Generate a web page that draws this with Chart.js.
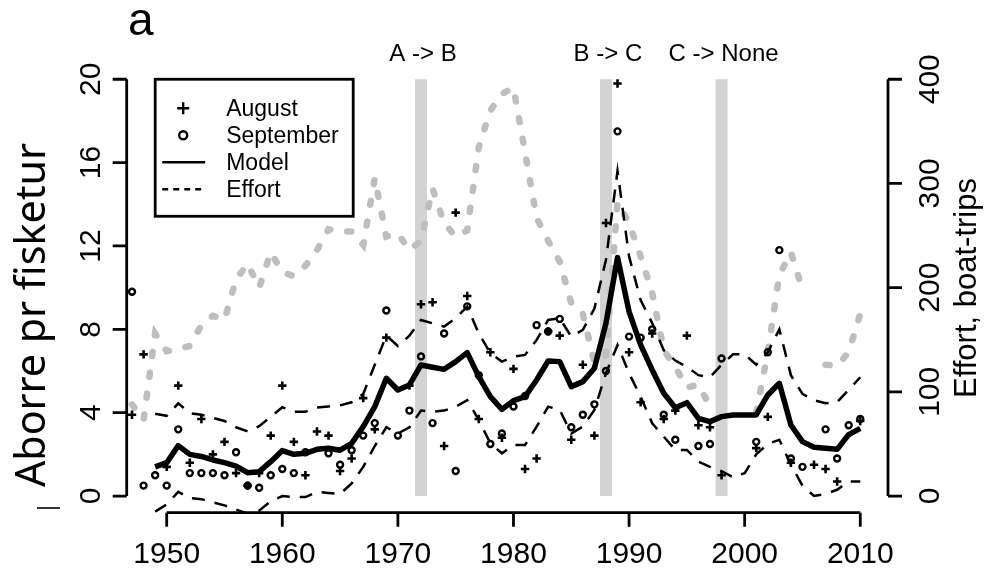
<!DOCTYPE html>
<html>
<head>
<meta charset="utf-8">
<script src="https://cdn.jsdelivr.net/npm/chart.js@4.4.1/dist/chart.umd.min.js"></script>
<style>
  html, body { margin: 0; padding: 0; background: #fff; }
  canvas { display: block; }
</style>
</head>
<body>
<canvas id="chart" width="985" height="568"></canvas>
<script>
// ---- data ----
const years = [1947, 1948, 1949, 1950, 1951, 1952, 1953, 1954, 1955, 1956,
  1957, 1958, 1959, 1960, 1961, 1962, 1963, 1964, 1965, 1966,
  1967, 1968, 1969, 1970, 1971, 1972, 1973, 1974, 1975, 1976,
  1977, 1978, 1979, 1980, 1981, 1982, 1983, 1984, 1985, 1986,
  1987, 1988, 1989, 1990, 1991, 1992, 1993, 1994, 1995, 1996,
  1997, 1998, 1999, 2000, 2001, 2002, 2003, 2004, 2005, 2006,
  2007, 2008, 2009, 2010];

const august = [3.9, 6.8, null, 1.4, 5.3, 1.6, 3.7, 2.0, 2.6, 1.1,
  0.5, 1.1, 2.9, 5.3, 2.6, 1.0, 3.1, 2.9, 1.2, 1.8,
  4.7, 3.2, 7.6, null, 5.3, 9.2, 9.3, 2.4, 13.6, 9.6,
  3.7, 6.9, 2.8, 6.1, 1.3, 1.8, 7.9, 7.7, 2.7, 6.3,
  2.9, 13.1, 19.8, 6.9, 4.5, 7.8, 3.7, 4.1, 7.7, 3.4,
  3.3, 1.0, null, null, 2.3, 3.8, null, 1.6, null, 1.5,
  1.3, 0.7, null, 3.6];

const september = [9.8, 0.5, 1.0, 0.5, 3.2, 1.1, 1.1, 1.1, 1.0, 2.1,
  0.5, 0.4, 1.0, 1.3, 1.1, 2.1, null, 2.05, 1.5, 2.2,
  2.9, 3.5, 8.9, 2.9, 4.1, 6.7, 3.5, 7.8, 1.2, 9.1,
  5.8, 2.5, 3.0, 4.3, 4.8, 8.2, 7.9, 8.5, 3.3, 3.9,
  4.4, 6.0, 17.5, 7.65, 7.6, 8.0, 3.9, 2.7, null, 2.4,
  2.5, 6.6, null, null, 2.6, 6.9, 11.8, 1.8, 1.4, null,
  3.2, 1.8, 3.4, 3.7];

const model = [null, null, 1.4, 1.6, 2.42, 2.0, 1.9, 1.73, 1.6, 1.44,
  1.12, 1.17, 1.65, 2.18, 2.0, 2.05, 2.24, 2.29, 2.2, 2.53,
  3.33, 4.29, 5.65, 5.09, 5.33, 6.29, 6.18, 6.08, 6.45, 6.88,
  5.73, 4.77, 4.16, 4.58, 4.77, 5.57, 6.48, 6.45, 5.25, 5.49,
  6.13, 8.29, 11.45, 8.85, 7.25, 6.05, 4.93, 4.24, 4.48, 3.73,
  3.57, 3.81, 3.89, 3.89, 3.89, 4.85, 5.41, 3.41, 2.61, 2.34,
  2.29, 2.24, 2.95, 3.25];

const upper = [null, null, 3.95, 3.85, 4.45, 3.97, 3.9, 3.75, 3.6, 3.3,
  3.1, 3.35, 3.8, 4.26, 4.05, 4.05, 4.25, 4.3, 4.35, 4.5,
  4.9, 6.3, 7.7, 7.2, 7.7, 8.45, 8.29, 8.13, 8.53, 9.09,
  7.8, 6.85, 6.45, 6.69, 6.77, 7.49, 8.45, 8.53, 7.65, 7.97,
  9.0, 11.33, 15.6, 11.5, 9.4, 8.3, 7.0, 6.5, 6.2, 5.8,
  5.7, 6.3, 6.8, 6.8, 6.3, 6.9, 8.0, 5.8, 4.9, 4.6,
  4.45, 4.5, 5.1, 5.7];

const lower = [null, null, -0.75, -0.4, 0.2, -0.1, -0.15, -0.3, -0.45, -0.65,
  -0.85, -0.7, -0.25, 0.0, -0.05, -0.05, 0.2, 0.15, 0.1, 0.6,
  1.4, 2.4, 3.3, 3.0, 3.3, 4.1, 4.05, 4.1, 4.29, 4.6,
  3.65, 2.53, 2.05, 2.45, 2.45, 3.33, 4.29, 4.13, 3.0, 3.33,
  4.13, 5.89, 7.25, 5.89, 4.77, 3.49, 2.85, 2.21, 2.21, 1.65,
  1.4, 1.2, 0.9, 1.1, 2.0, 2.5, 2.7, 1.5, 0.5, 0.0,
  0.1, 0.3, 0.7, 0.7];

const effort = [88, 73, 156, 139, 141, 144, 164, 173, 169, 208,
  223, 200, 234, 215, 211, 221, 236, 256, 254, 254,
  241, 305, 249, 252, 236, 245, 295, 262, 249, 255,
  335, 370, 386, 392, 330, 267, 245, 225, 185, 175,
  128, 135, 282, 262, 230, 195, 140, 124, 104, 107,
  86, null, null, null, 80, 138, 212, 234, 198, null,
  126, 125, 138, 175];

const regimeYears = [1972, 1988, 1998];
const regimeLabels = ['A -> B', 'B -> C', 'C -> None'];

const xTicks = [1950, 1960, 1970, 1980, 1990, 2000, 2010];
const yTicks = [0, 4, 8, 12, 16, 20];
const y2Ticks = [0, 100, 200, 300, 400];

const legendLabels = ['August', 'September', 'Model', 'Effort'];

// ---- helpers ----
const FONT = '"Liberation Sans", Arial, Helvetica, sans-serif';

function pts(arr) {
  return years.map((yr, i) => ({ x: yr, y: arr[i] }));
}

function rotText(ctx, text, x, y, align) {
  ctx.save();
  ctx.translate(x, y);
  ctx.rotate(-Math.PI / 2);
  ctx.textAlign = align || 'center';
  ctx.textBaseline = 'alphabetic';
  ctx.fillText(text, 0, 0);
  ctx.restore();
}

// regime bars behind the data
const regimeBars = {
  id: 'regimeBars',
  beforeDatasetsDraw(chart) {
    const { ctx, scales: { x, y } } = chart;
    const top = y.getPixelForValue(20);
    const bot = y.getPixelForValue(0);
    ctx.save();
    ctx.fillStyle = '#d3d3d3';
    regimeYears.forEach(yr => {
      const px = x.getPixelForValue(yr);
      ctx.fillRect(px - 6, top, 12, bot - top);
    });
    ctx.restore();
  }
};

// R-style axes, titles and legend
const decor = {
  id: 'decor',
  afterDraw(chart) {
    const { ctx, chartArea: a, scales: { x, y, y2 } } = chart;
    ctx.save();
    ctx.strokeStyle = '#000';
    ctx.fillStyle = '#000';
    ctx.lineWidth = 2.8;
    ctx.lineCap = 'butt';

    // bottom axis
    const xb = a.bottom;
    ctx.beginPath();
    ctx.moveTo(x.getPixelForValue(xTicks[0]), xb);
    ctx.lineTo(x.getPixelForValue(xTicks[xTicks.length - 1]), xb);
    xTicks.forEach(t => {
      const px = x.getPixelForValue(t);
      ctx.moveTo(px, xb);
      ctx.lineTo(px, xb + 14);
    });
    ctx.stroke();
    ctx.font = '30px ' + FONT;
    ctx.textAlign = 'center';
    ctx.textBaseline = 'alphabetic';
    xTicks.forEach(t => ctx.fillText(String(t), x.getPixelForValue(t), 563));

    // left axis
    const xl = a.left;
    ctx.beginPath();
    ctx.moveTo(xl, y.getPixelForValue(yTicks[0]));
    ctx.lineTo(xl, y.getPixelForValue(yTicks[yTicks.length - 1]));
    yTicks.forEach(t => {
      const py = y.getPixelForValue(t);
      ctx.moveTo(xl, py);
      ctx.lineTo(xl - 14, py);
    });
    ctx.stroke();
    yTicks.forEach(t => rotText(ctx, String(t), xl - 27, y.getPixelForValue(t)));

    // right axis
    const xr = a.right;
    ctx.beginPath();
    ctx.moveTo(xr, y2.getPixelForValue(y2Ticks[0]));
    ctx.lineTo(xr, y2.getPixelForValue(y2Ticks[y2Ticks.length - 1]));
    y2Ticks.forEach(t => {
      const py = y2.getPixelForValue(t);
      ctx.moveTo(xr, py);
      ctx.lineTo(xr + 14, py);
    });
    ctx.stroke();
    y2Ticks.forEach(t => rotText(ctx, String(t), xr + 51, y2.getPixelForValue(t)));

    // axis titles
    ctx.font = '31px ' + FONT;
    rotText(ctx, 'Effort, boat-trips', 976, 398, 'left');

    ctx.save();
    ctx.font = '42px "Noto Sans", "Open Sans", sans-serif';
    const title = 'Aborre pr fisketur';
    const w = ctx.measureText(title).width;
    ctx.translate(45, 487);
    ctx.rotate(-Math.PI / 2);
    ctx.scale(344 / w, 1);
    ctx.textAlign = 'left';
    ctx.fillText(title, 0, 0);
    ctx.restore();

    ctx.beginPath();
    ctx.lineWidth = 2;
    ctx.strokeStyle = '#333';
    ctx.moveTo(37, 508);
    ctx.lineTo(60, 508);
    ctx.stroke();

    // panel letter
    ctx.font = '46px ' + FONT;
    ctx.textAlign = 'left';
    ctx.fillText('a', 128, 35);

    // regime labels
    ctx.font = '24px ' + FONT;
    ctx.textAlign = 'center';
    regimeYears.forEach((yr, i) => {
      ctx.fillText(regimeLabels[i], x.getPixelForValue(yr) + 2, a.top - 2);
    });

    // legend box
    const bx = a.left + 28.5, by = y.getPixelForValue(20);
    const bw = 198, bh = 137;
    ctx.fillStyle = '#fff';
    ctx.fillRect(bx, by, bw, bh);
    ctx.strokeStyle = '#000';
    ctx.lineWidth = 2.8;
    ctx.strokeRect(bx, by, bw, bh);

    const sx = bx + 28, tx = bx + 71;
    const rows = [by + 29, by + 56, by + 83, by + 110];
    ctx.fillStyle = '#000';
    ctx.font = '23px ' + FONT;
    ctx.textAlign = 'left';
    legendLabels.forEach((lab, i) => ctx.fillText(lab, tx, rows[i] + 8));

    ctx.lineWidth = 2.4;
    ctx.beginPath();
    ctx.moveTo(sx - 6, rows[0]); ctx.lineTo(sx + 6, rows[0]);
    ctx.moveTo(sx, rows[0] - 6); ctx.lineTo(sx, rows[0] + 6);
    ctx.stroke();
    ctx.beginPath();
    ctx.arc(sx, rows[1], 4, 0, Math.PI * 2);
    ctx.stroke();
    ctx.beginPath();
    ctx.moveTo(sx - 21, rows[2]); ctx.lineTo(sx + 22, rows[2]);
    ctx.stroke();
    ctx.setLineDash([6, 5]);
    ctx.beginPath();
    ctx.moveTo(sx - 21, rows[3]); ctx.lineTo(sx + 22, rows[3]);
    ctx.stroke();
    ctx.setLineDash([]);

    ctx.restore();
  }
};

new Chart(document.getElementById('chart').getContext('2d'), {
  type: 'line',
  data: {
    datasets: [
      {
        label: 'August',
        data: pts(august),
        showLine: false,
        pointStyle: 'cross',
        pointRadius: 4.2,
        pointBorderWidth: 2.6,
        pointBorderColor: '#000',
        pointBackgroundColor: '#000'
      },
      {
        label: 'September',
        data: pts(september),
        showLine: false,
        pointStyle: 'circle',
        pointRadius: 3,
        pointBorderWidth: 2.4,
        pointBorderColor: '#000',
        pointBackgroundColor: 'rgba(0,0,0,0)'
      },
      {
        label: 'Model',
        data: pts(model),
        borderColor: '#000',
        borderWidth: 5.5,
        pointRadius: 0,
        tension: 0,
        borderJoinStyle: 'round'
      },
      {
        label: 'Upper',
        data: pts(upper),
        borderColor: '#000',
        borderWidth: 2.5,
        borderDash: [13, 10],
        pointRadius: 0,
        tension: 0
      },
      {
        label: 'Lower',
        data: pts(lower),
        borderColor: '#000',
        borderWidth: 2.5,
        borderDash: [13, 10],
        pointRadius: 0,
        tension: 0
      },
      {
        label: 'Effort',
        data: pts(effort),
        yAxisID: 'y2',
        borderColor: '#bebebe',
        borderWidth: 6.5,
        borderDash: [4, 17],
        borderCapStyle: 'round',
        pointRadius: 0,
        tension: 0,
        spanGaps: false
      }
    ]
  },
  options: {
    responsive: false,
    animation: false,
    events: [],
    layout: { padding: { left: 126.7, right: 97, top: 62.6, bottom: 55.3 } },
    scales: {
      x: { type: 'linear', min: 1946.54, max: 2012.4, display: false },
      y: { type: 'linear', min: -0.8, max: 20.8, display: false },
      y2: { type: 'linear', position: 'right', min: -16, max: 416, display: false }
    },
    plugins: {
      legend: { display: false },
      tooltip: { enabled: false }
    }
  },
  plugins: [regimeBars, decor]
});
</script>
</body>
</html>
